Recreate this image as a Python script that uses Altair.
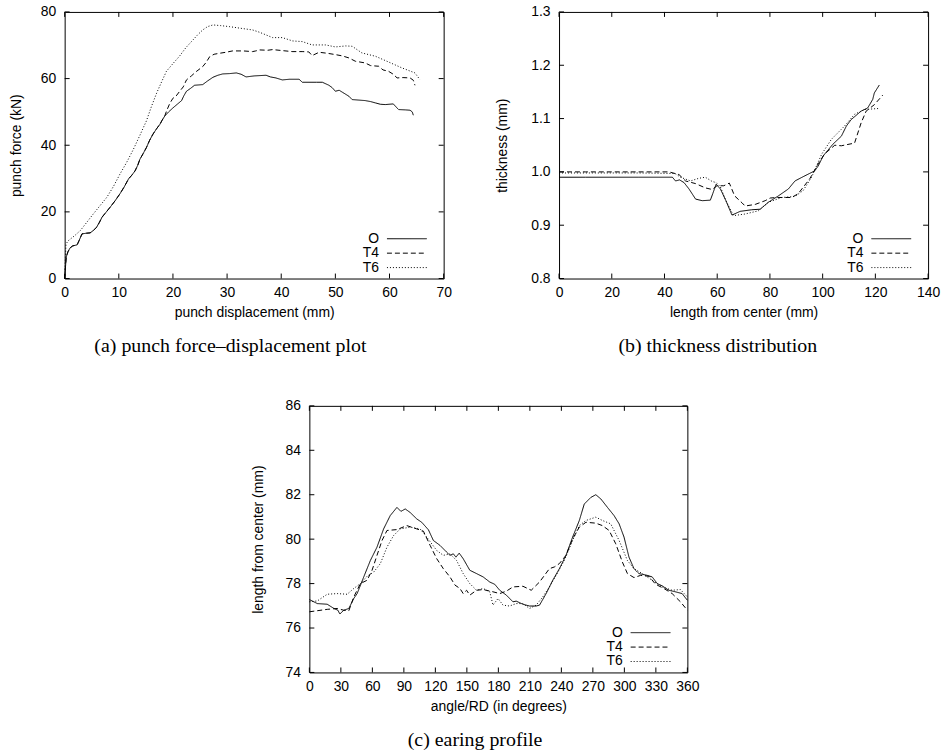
import altair as alt
import pandas as pd

SERIES = ["O", "T4", "T6"]
DASHES = [[1, 0], [5, 3], [1, 2]]
SANS = "Liberation Sans"
SERIF = "Liberation Serif"

# ---------------- panel (a): punch force vs displacement ----------------
a_O = [(0, 0), (0.15, 3.5), (0.3, 6.5), (0.6, 8.0), (1.0, 9.2), (1.5, 9.8), (2.3, 10.1), (2.7, 11.5),
       (3.2, 13.4), (4.0, 13.6), (4.7, 13.7), (5.3, 14.4), (5.9, 15.4), (6.4, 16.8), (6.9, 18.4),
       (7.6, 19.8), (8.4, 21.4), (9.3, 23.3), (10.2, 25.4), (11.0, 27.5), (11.8, 29.9), (12.4, 31.0),
       (13.0, 32.3), (13.5, 34.0), (13.9, 35.8), (14.5, 37.5), (15.1, 39.3), (15.7, 41.5), (16.3, 43.3),
       (17.0, 45.0), (17.6, 46.3), (18.0, 47.5), (18.5, 48.8), (19.2, 50.0), (20.0, 51.2), (20.8, 52.3),
       (21.6, 53.4), (22.0, 54.8), (22.5, 56.2), (23.2, 57.0), (24.0, 58.0), (24.8, 58.1), (25.5, 58.2),
       (26.4, 59.3), (27.4, 60.4), (28.3, 61.0), (29.2, 61.4), (30.5, 61.5), (31.7, 61.7), (32.6, 61.3),
       (33.5, 60.5), (35.0, 60.8), (37.2, 61.0), (38.0, 60.5), (39.0, 60.2), (40.2, 59.6), (41.5, 59.8),
       (43.3, 59.8), (43.9, 58.9), (45.5, 58.9), (46.5, 58.9), (47.6, 58.9), (48.8, 58.0), (49.4, 57.3),
       (50.0, 56.2), (50.7, 56.5), (51.3, 55.9), (52.5, 54.7), (53.1, 53.7), (55.5, 53.4), (56.5, 53.1),
       (57.4, 52.7), (58.3, 52.3), (59.2, 52.2), (60.7, 52.4), (61.2, 51.5), (61.7, 50.7), (63.0, 50.6),
       (63.8, 50.5), (64.2, 50.0), (64.4, 49.0)]
a_T4 = [(0, 0), (0.15, 3.5), (0.3, 6.5), (0.6, 8.0), (1.0, 9.2), (1.5, 9.8), (2.3, 10.1), (2.7, 11.5),
        (3.2, 13.4), (4.0, 13.6), (4.7, 13.7), (5.3, 14.4), (5.9, 15.4), (6.4, 16.8), (6.9, 18.4),
        (7.6, 19.8), (8.4, 21.4), (9.3, 23.3), (10.2, 25.4), (11.0, 27.5), (11.8, 29.9), (12.4, 31.0),
        (13.0, 32.3), (13.5, 34.0), (13.9, 35.8), (14.5, 37.5), (15.1, 39.3), (15.7, 41.5), (16.3, 43.3),
        (17.0, 45.0), (17.6, 46.3), (18.0, 47.5), (18.5, 48.8), (18.8, 50.2), (19.4, 52.5), (20.0, 54.1),
        (20.6, 54.8), (21.3, 56.3), (21.9, 57.5), (22.5, 59.6), (23.4, 60.8), (24.3, 62.1), (25.5, 63.6),
        (26.1, 64.8), (26.8, 66.6), (27.6, 67.3), (28.6, 67.6), (29.8, 67.9), (31.0, 68.3), (33.0, 68.3),
        (34.7, 68.1), (35.3, 68.3), (36.0, 68.6), (37.5, 68.5), (38.4, 68.7), (40.2, 68.4), (42.0, 68.1),
        (44.0, 68.1), (45.1, 68.0), (45.7, 66.9), (47.0, 67.9), (48.5, 67.6), (50.0, 67.2), (51.3, 66.8),
        (52.5, 66.2), (53.7, 65.2), (55.5, 64.7), (56.5, 63.9), (58.0, 63.7), (58.8, 62.6), (59.8, 62.2),
        (60.7, 61.3), (61.4, 60.2), (62.5, 60.3), (63.8, 60.2), (64.4, 59.5), (64.7, 58.0)]
a_T6 = [(0, 0), (0.1, 5.0), (0.25, 10.4), (0.7, 11.4), (1.8, 12.8), (2.9, 14.4), (4.1, 16.9), (5.3, 19.4),
        (6.5, 21.8), (7.8, 24.4), (9.0, 27.6), (10.2, 31.3), (11.5, 35.0), (12.7, 38.8), (13.9, 43.0),
        (15.1, 47.3), (16.0, 51.5), (17.0, 55.7), (17.9, 59.0), (18.8, 62.2), (20.0, 64.5), (21.2, 66.7),
        (22.4, 69.3), (23.7, 71.6), (24.6, 73.2), (25.5, 74.6), (26.4, 75.6), (27.4, 76.1), (28.8, 75.9),
        (30.4, 75.6), (32.5, 75.1), (34.7, 74.6), (36.0, 73.9), (37.2, 73.1), (38.4, 72.3), (40.2, 72.3),
        (42.1, 71.3), (43.9, 71.1), (45.7, 70.1), (48.2, 70.1), (50.0, 69.5), (51.9, 69.8), (53.1, 69.7),
        (54.9, 67.7), (57.4, 66.7), (59.8, 65.0), (62.3, 63.2), (64.7, 61.7), (65.6, 59.7)]

# ---------------- panel (b): thickness distribution ----------------
b_O = [(0, 0.99), (10, 0.99), (20, 0.99), (30, 0.99), (43, 0.99), (44.2, 0.983), (45.7, 0.985),
       (47.4, 0.98), (49.3, 0.968), (51.8, 0.949), (54.3, 0.946), (57.4, 0.947), (58.3, 0.959),
       (59.6, 0.977), (61.2, 0.968), (63.3, 0.946), (65.6, 0.919), (68.7, 0.926), (73.1, 0.929),
       (76.3, 0.93), (79.4, 0.943), (83.2, 0.955), (87.0, 0.968), (89.5, 0.983), (92.6, 0.991),
       (97.0, 1.002), (98.3, 1.011), (100.2, 1.03), (103.9, 1.052), (107.1, 1.067), (109.0, 1.086),
       (110.8, 1.098), (114.6, 1.114), (117.1, 1.12), (119.0, 1.136), (119.6, 1.148), (121.5, 1.163)]
b_T4 = [(0, 1.0), (10, 1.0), (20, 1.0), (30, 1.0), (41.7, 1.0), (45.5, 0.995), (48.0, 0.983),
        (51.8, 0.978), (55.5, 0.97), (58.1, 0.967), (59.9, 0.974), (62.5, 0.974), (64.6, 0.979),
        (66.6, 0.955), (69.4, 0.942), (70.6, 0.936), (74.4, 0.939), (78.2, 0.946), (80.1, 0.951),
        (82.6, 0.952), (88.2, 0.952), (90.7, 0.959), (95.1, 0.987), (98.3, 1.015), (100.8, 1.034),
        (104.6, 1.05), (107.1, 1.049), (112.1, 1.054), (114.6, 1.092), (116.5, 1.114), (119.6, 1.126),
        (122.8, 1.144)]
b_T6 = [(0, 0.998), (10, 0.998), (20, 0.998), (30, 0.998), (44, 0.997), (46.1, 0.99), (49.9, 0.983),
        (53.0, 0.988), (55.5, 0.99), (58.1, 0.982), (59.6, 0.98), (61.2, 0.972), (63.3, 0.946),
        (66.2, 0.918), (70.6, 0.921), (75.6, 0.927), (79.4, 0.943), (84.5, 0.952), (89.5, 0.954),
        (92.6, 0.965), (95.8, 0.99), (99.6, 1.033), (103.3, 1.061), (108.3, 1.086), (112.1, 1.108),
        (115.9, 1.117), (121.5, 1.119)]

# ---------------- panel (c): earing profile ----------------
c_O = [(0, 77.28), (7.6, 77.1), (17, 77.07), (23.4, 76.88), (27.2, 76.8), (29, 76.63), (32.8, 76.8),
       (37.6, 76.88), (42.3, 77.33), (45.5, 77.55), (51.8, 78.3), (58.1, 79.04), (64.4, 79.64),
       (70.7, 80.46), (77, 81.06), (83.4, 81.43), (87.2, 81.25), (91.3, 81.36), (96, 81.2),
       (102.3, 80.91), (107, 80.76), (113.4, 80.42), (118.1, 79.94), (124.4, 79.72), (129.2, 79.49),
       (133.9, 79.27), (137.1, 79.34), (139.6, 79.19), (142.7, 79.37), (146.5, 79.12), (152.8, 78.6),
       (159.2, 78.45), (165.5, 78.3), (171.8, 78.07), (176.5, 77.97), (181.3, 77.7), (187.6, 77.48),
       (193.9, 77.18), (197, 77.21), (203.4, 77.07), (209.7, 76.99), (216, 76.99), (219.2, 77.03),
       (225.5, 77.55), (231.8, 78.15), (238.1, 78.67), (244.4, 79.27), (250.7, 80.09), (257.1, 80.84),
       (261.8, 81.58), (268.1, 81.88), (272.8, 82.0), (277.6, 81.81), (283.9, 81.43), (290.2, 81.06),
       (295, 80.69), (299.7, 80.09), (304.4, 79.19), (309.2, 78.67), (313.9, 78.45), (321.8, 78.37),
       (326.5, 78.3), (331.3, 78.0), (336, 77.9), (342.3, 77.7), (348.6, 77.63), (355, 77.55),
       (360, 77.25)]
c_T4 = [(0, 76.73), (17, 76.84), (26.5, 76.88), (32.8, 76.8), (37.6, 76.78), (42.3, 77.4), (48.6, 78.0),
        (55, 78.15), (59.7, 78.6), (64.4, 79.27), (69.2, 79.94), (73.9, 80.39), (83.4, 80.43),
        (92.8, 80.61), (102.3, 80.46), (108.6, 80.36), (115, 79.72), (121.3, 79.12), (127.6, 78.67),
        (133.9, 78.3), (138.7, 77.93), (143.4, 77.78), (146.5, 77.55), (149.7, 77.7), (152.8, 77.48),
        (159.2, 77.7), (165.5, 77.73), (174.9, 77.63), (181.3, 77.55), (187.6, 77.66), (193.9, 77.85),
        (203.4, 77.88), (211.3, 77.7), (219.2, 78.07), (228.6, 78.67), (233.4, 78.75), (238.1, 78.9),
        (244.4, 79.27), (250.7, 80.01), (257.1, 80.54), (263.4, 80.76), (272.8, 80.72), (279.1, 80.61),
        (285.5, 80.39), (291.8, 79.79), (298.1, 78.97), (302.9, 78.45), (309.2, 78.27), (315.5, 78.37),
        (323.4, 78.33), (329.7, 77.97), (337.6, 77.78), (345.5, 77.55), (353.4, 77.18), (360, 76.8)]
c_T6 = [(0, 77.18), (7.6, 77.22), (17, 77.52), (26.5, 77.55), (36, 77.52), (42.3, 77.78), (48.6, 78.0),
        (55, 78.33), (61.3, 78.52), (67.6, 78.9), (73.9, 79.64), (80.2, 80.16), (86.5, 80.46),
        (96, 80.54), (105.5, 80.46), (111.8, 80.09), (121.3, 79.49), (127.6, 79.27), (133.9, 79.34),
        (140.2, 79.04), (146.5, 78.45), (152.8, 78.0), (159.2, 77.7), (165.5, 77.78), (171.8, 77.63),
        (174.9, 77.03), (179.7, 77.33), (184.4, 77.03), (190.7, 76.99), (197, 77.1), (203.4, 77.1),
        (209.7, 76.88), (216, 77.03), (222.3, 77.4), (228.6, 77.85), (235, 78.37), (242.8, 79.04),
        (250.7, 79.94), (257.1, 80.61), (263.4, 80.84), (272.8, 80.99), (279.1, 80.84), (287, 80.69),
        (295, 79.94), (302.9, 79.04), (309.2, 78.67), (317.1, 78.45), (326.5, 78.15), (336, 77.85),
        (345.5, 77.7), (353.4, 77.73), (360, 77.4)]

a_xticks = [0, 10, 20, 30, 40, 50, 60, 70]
a_yticks = [0, 20, 40, 60, 80]
b_xticks = [0, 20, 40, 60, 80, 100, 120, 140]
b_yticks = [0.8, 0.9, 1.0, 1.1, 1.2, 1.3]
c_xticks = [0, 30, 60, 90, 120, 150, 180, 210, 240, 270, 300, 330, 360]
c_yticks = [74, 76, 78, 80, 82, 84, 86]

H = 268
TICK = 5


def panel(series_data, xdom, ydom, xticks, yticks, xtitle, ytitle, caption, W, ytitle_pad):
    rows = []
    for name, pts in zip(SERIES, series_data):
        for x, y in pts:
            rows.append({"series": name, "x": x, "y": y})
    df = pd.DataFrame(rows)
    xs = alt.Scale(domain=xdom, nice=False, zero=False)
    ys = alt.Scale(domain=ydom, nice=False, zero=False)
    xax = alt.Axis(values=xticks, title=xtitle, ticks=False, domain=False, grid=False,
                   labelPadding=7, titlePadding=6, labelOverlap=False, labelFlush=False)
    yax = alt.Axis(values=yticks, title=ytitle, ticks=False, domain=False, grid=False,
                   labelPadding=9, titlePadding=ytitle_pad, labelOverlap=False, labelFlush=False)

    lines = alt.Chart(df).mark_line(color="black", strokeWidth=1).encode(
        x=alt.X("x:Q", scale=xs, axis=xax),
        y=alt.Y("y:Q", scale=ys, axis=yax),
        strokeDash=alt.StrokeDash("series:N", scale=alt.Scale(domain=SERIES, range=DASHES), legend=None),
        detail="series:N",
    )

    xt = pd.DataFrame({"x": xticks})
    yt = pd.DataFrame({"y": yticks})
    layers = [lines]
    xb = alt.Chart(xt).mark_rule(color="black", strokeWidth=1)
    layers.append(xb.encode(x=alt.X("x:Q", scale=xs, axis=xax), y=alt.value(H), y2=alt.value(H - TICK)))
    layers.append(xb.encode(x=alt.X("x:Q", scale=xs, axis=xax), y=alt.value(0), y2=alt.value(TICK)))
    yb = alt.Chart(yt).mark_rule(color="black", strokeWidth=1)
    layers.append(yb.encode(y=alt.Y("y:Q", scale=ys, axis=yax), x=alt.value(0), x2=alt.value(TICK)))
    layers.append(yb.encode(y=alt.Y("y:Q", scale=ys, axis=yax), x=alt.value(W), x2=alt.value(W - TICK)))

    offs = [40, 25.5, 11]
    for i, s in enumerate(SERIES):
        ld = pd.DataFrame({"label": [s]})
        layers.append(alt.Chart(ld).mark_text(align="right", baseline="middle", font=SANS,
                                              fontSize=14, color="black").encode(
            text="label:N", x=alt.value(W - 65), y=alt.value(H - offs[i])))
        layers.append(alt.Chart(ld).mark_rule(color="black", strokeWidth=1, strokeDash=DASHES[i]).encode(
            x=alt.value(W - 57), x2=alt.value(W - 17), y=alt.value(H - offs[i])))

    return alt.layer(*layers).properties(
        width=W, height=H,
        title=alt.TitleParams(caption, orient="bottom", anchor="middle", frame="bounds", font=SERIF,
                              fontSize=20, fontWeight="normal", color="black", offset=17),
    )


pa = panel([a_O, a_T4, a_T6], [0, 70], [0, 80], a_xticks, a_yticks,
           "punch displacement (mm)", "punch force (kN)", "(a) punch force\u2013displacement plot", 381, 17)
pb = panel([b_O, b_T4, b_T6], [0, 140], [0.8, 1.3], b_xticks, b_yticks,
           "length from center (mm)", "thickness (mm)", "(b) thickness distribution", 371, 21)
pc = panel([c_O, c_T4, c_T6], [0, 360], [74, 86], c_xticks, c_yticks,
           "angle/RD (in degrees)", "length from center (mm)", "(c) earing profile", 380, 20)

spacer = alt.Chart(pd.DataFrame({"v": [0]})).mark_rule(opacity=0).encode(
    x=alt.value(0), y=alt.value(0), y2=alt.value(H)
).properties(width=185, height=H, view=alt.ViewBackground(stroke="transparent"))

top = alt.hconcat(pa, pb, spacing=43)
bottom = alt.hconcat(spacer, pc, spacing=0)
chart = alt.vconcat(top, bottom, spacing=41).properties(
    padding={"left": 8, "top": 2, "right": 5, "bottom": 5},
    background="white",
).configure_view(stroke="black", strokeWidth=1).configure_axis(
    labelFont=SANS, labelFontSize=14, labelColor="black",
    titleFont=SANS, titleFontSize=14, titleFontWeight="normal", titleColor="black",
)

chart.save("out.html", embed_options={"renderer": "svg", "actions": False})
